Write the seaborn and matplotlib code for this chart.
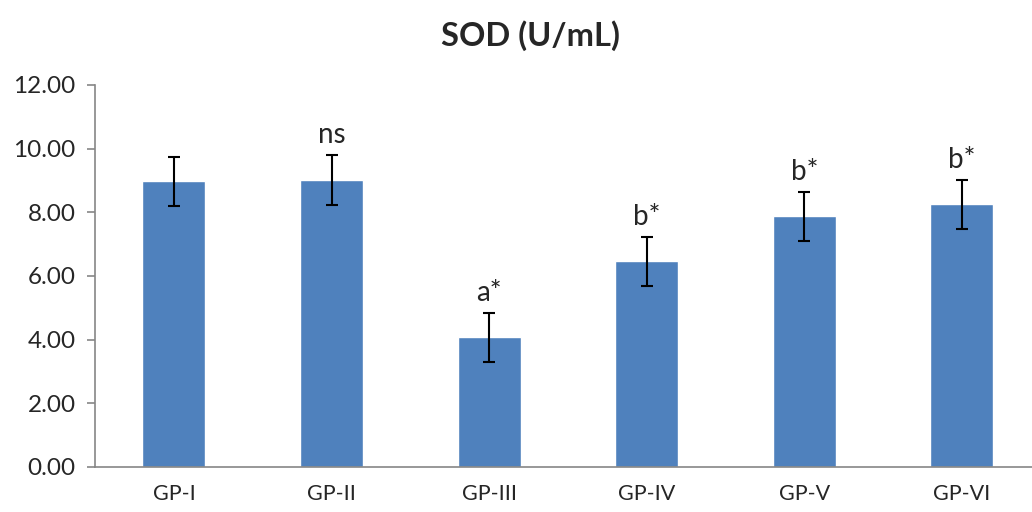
import matplotlib
matplotlib.use("Agg")
import matplotlib.pyplot as plt
import seaborn as sns
import numpy as np

groups = ["GP-I", "GP-II", "GP-III", "GP-IV", "GP-V", "GP-VI"]
sod_mean = [8.98, 9.02, 4.08, 6.47, 7.88, 8.25]
sod_err = [0.77, 0.78, 0.77, 0.77, 0.77, 0.77]
labels = ["", "ns", "a*", "b*", "b*", "b*"]

sns.set_style("white")
plt.rcParams["font.family"] = ["Lato", "DejaVu Sans"]

fig = plt.figure(figsize=(10.32, 5.12), dpi=100)
ax = fig.add_axes([0.0922, 0.0879, 0.9163, 0.7461])

sns.barplot(x=groups, y=sod_mean, color="#4F81BD", saturation=1, width=0.4,
            errorbar=None, ax=ax)
xpos = np.arange(len(groups))
ax.errorbar(xpos, sod_mean, yerr=sod_err, fmt="none", ecolor="black",
            elinewidth=1.5, capsize=4.5, capthick=1.5)

for x, m, e, t in zip(xpos, sod_mean, sod_err, labels):
    if t:
        ax.annotate(t, (x, m + e), xytext=(0, 5), textcoords="offset points",
                    ha="center", va="bottom", fontsize=20)

ax.set_xlim(-0.5, 5.5)
ax.set_ylim(0, 12)
ax.set_yticks(np.arange(0, 12.1, 2))
ax.set_yticklabels([f"{v:.2f}" for v in np.arange(0, 12.1, 2)], fontsize=17.5)
ax.set_xticks(xpos)
ax.set_xticklabels(groups, fontsize=15.5)
ax.set_xticks(np.arange(-0.5, 5.6, 1), minor=True)
ax.tick_params(axis="x", which="major", length=0, pad=12)
ax.tick_params(axis="x", which="minor", length=6, color="#868686", width=1.2, direction="out")
ax.tick_params(axis="y", length=6, color="#868686", width=1.2, direction="out", left=True, pad=8)

for side in ["top", "right"]:
    ax.spines[side].set_visible(False)
for side in ["left", "bottom"]:
    ax.spines[side].set_color("#868686")
    ax.spines[side].set_linewidth(1.2)

fig.text(0.514, 0.93, "SOD (U/mL)", ha="center", va="center", fontsize=23.5, fontweight="bold")

fig.savefig("out.png", dpi=100)
